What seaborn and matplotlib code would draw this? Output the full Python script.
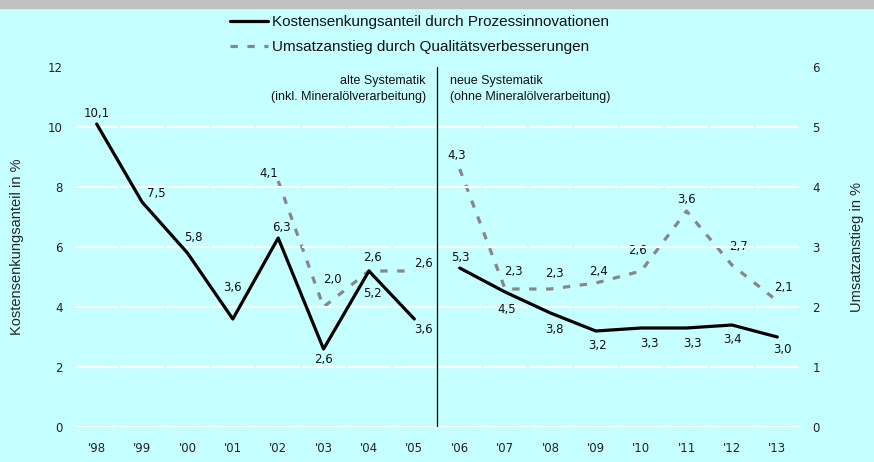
import numpy as np
import pandas as pd
import matplotlib
matplotlib.use('Agg')
import matplotlib.pyplot as plt
import seaborn as sns
from matplotlib.lines import Line2D
from matplotlib.patches import Rectangle

years = ["'98", "'99", "'00", "'01", "'02", "'03", "'04", "'05",
         "'06", "'07", "'08", "'09", "'10", "'11", "'12", "'13"]
# Kostensenkungsanteil durch Prozessinnovationen (left axis)
kosten = [10.1, 7.5, 5.8, 3.6, 6.3, 2.6, 5.2, 3.6,
          5.3, 4.5, 3.8, 3.2, 3.3, 3.3, 3.4, 3.0]
# Umsatzanstieg durch Qualitätsverbesserungen (right axis)
umsatz = [np.nan, np.nan, np.nan, np.nan, 4.1, 2.0, 2.6, 2.6,
          4.3, 2.3, 2.3, 2.4, 2.6, 3.6, 2.7, 2.1]
periode = ['alt'] * 8 + ['neu'] * 8

# label offsets in pixels (dx, dy)
kosten_off = [(0, 10), (14, 9), (6, 15), (0, 31), (3, 10), (0, -10), (4, -22), (9, -10),
              (1, 10), (2, -17), (4, -16), (2, -15), (8, -15), (6, -16), (1, -14), (5, -13)]
umsatz_off = [None, None, None, None, (-9, 7), (9, 27), (4, 14), (9, 8),
              (-3, 13), (8, 17), (4, 16), (3, 11), (-4, 20), (0, 11), (7, 18), (6, 13)]

df = pd.DataFrame({'x': np.arange(len(years)), 'jahr': years,
                   'kosten': kosten, 'umsatz': umsatz, 'periode': periode})

bg = '#c6ffff'
sns.set_style('white', {'axes.facecolor': bg, 'figure.facecolor': bg})
plt.rcParams['font.family'] = ['Liberation Sans', 'DejaVu Sans']
plt.rcParams['text.color'] = '#111111'
numfont = ['DejaVu Sans']

fig = plt.figure(figsize=(8.74, 4.62), dpi=100)
ax = fig.add_axes([74 / 874, 35 / 462, 726 / 874, 360 / 462])
ax2 = ax.twinx()
ax.set_zorder(ax2.get_zorder() + 1)
ax.patch.set_visible(False)
ax2.patch.set_facecolor(bg)

# segmented white gridlines
for v in range(0, 13, 2):
    ax.hlines([v] * len(years), df['x'] - 0.48, df['x'] + 0.48, color='white', lw=1.4, zorder=0)

gray = '#878787'
sns.lineplot(data=df.dropna(subset=['umsatz']), x='x', y='umsatz', units='periode',
             estimator=None, color=gray, lw=2.3, ax=ax2, legend=False)
for l in ax2.lines:
    l.set_dashes((2.3, 3.0))
sns.lineplot(data=df, x='x', y='kosten', units='periode', estimator=None,
             color='black', lw=2.3, ax=ax, legend=False, zorder=5)

fs = 8.5
for i, (v, o) in enumerate(zip(kosten, kosten_off)):
    ax.annotate(f'{v:.1f}'.replace('.', ','), (i, v), xytext=o, textcoords='offset pixels',
                ha='center', va='center', fontsize=fs, family=numfont)
for i, (v, o) in enumerate(zip(umsatz, umsatz_off)):
    if o is None:
        continue
    ax2.annotate(f'{v:.1f}'.replace('.', ','), (i, v), xytext=o, textcoords='offset pixels',
                 ha='center', va='center', fontsize=fs, family=numfont)

ax.axvline(7.5, color='black', lw=0.9, zorder=6)
tfs = 9
ax.annotate('alte Systematik', (7.5, 12), xytext=(-11, -14), textcoords='offset pixels',
            ha='right', va='center', fontsize=tfs)
ax.annotate('(inkl. Mineralölverarbeitung)', (7.5, 12), xytext=(-11, -30), textcoords='offset pixels',
            ha='right', va='center', fontsize=tfs)
ax.annotate('neue Systematik', (7.5, 12), xytext=(13, -14), textcoords='offset pixels',
            ha='left', va='center', fontsize=tfs)
ax.annotate('(ohne Mineralölverarbeitung)', (7.5, 12), xytext=(13, -30), textcoords='offset pixels',
            ha='left', va='center', fontsize=tfs)

ax.set_xlim(-0.5, len(years) - 0.5)
ax.set_ylim(0, 12)
ax2.set_ylim(0, 6)
ax.set_xticks(df['x'])
ax.set_xticklabels(years, family=numfont)
ax.set_yticks(range(0, 13, 2))
ax.set_yticklabels(range(0, 13, 2), family=numfont)
ax2.set_yticks(range(0, 7))
ax2.set_yticklabels(range(0, 7), family=numfont)
ax.tick_params(axis='x', length=0, pad=11, labelsize=fs, labelcolor='#222222')
ax.tick_params(axis='y', length=0, pad=8, labelsize=fs, labelcolor='#222222')
ax2.tick_params(axis='y', length=0, pad=9, labelsize=fs, labelcolor='#222222')
ax.set_xlabel('')
ax.set_ylabel('Kostensenkungsanteil in %', fontsize=10.5)
ax2.set_ylabel('Umsatzanstieg in %', fontsize=10.5)
ax.yaxis.set_label_coords(-50 / 726, 0.5)
ax2.yaxis.set_label_coords(1 + 50 / 726, 0.5)
for a in (ax, ax2):
    for s in a.spines.values():
        s.set_visible(False)

# grey band on top
fig.patches.append(Rectangle((0, 454 / 462), 1, 8 / 462, transform=fig.transFigure,
                             color='#c0c0c0', zorder=0))

handles = [Line2D([], [], color='black', lw=2.3),
           Line2D([], [], color=gray, lw=2.3, dashes=(2.3, 3.0))]
fig.legend(handles, ['Kostensenkungsanteil durch Prozessinnovationen',
                     'Umsatzanstieg durch Qualitätsverbesserungen'],
           loc='upper left', bbox_to_anchor=(230 / 874, 447 / 462), frameon=False,
           fontsize=11, handlelength=2.5, handletextpad=0.25, labelspacing=0.72,
           borderpad=0, borderaxespad=0)

fig.savefig('out.png', dpi=100, facecolor=bg)
